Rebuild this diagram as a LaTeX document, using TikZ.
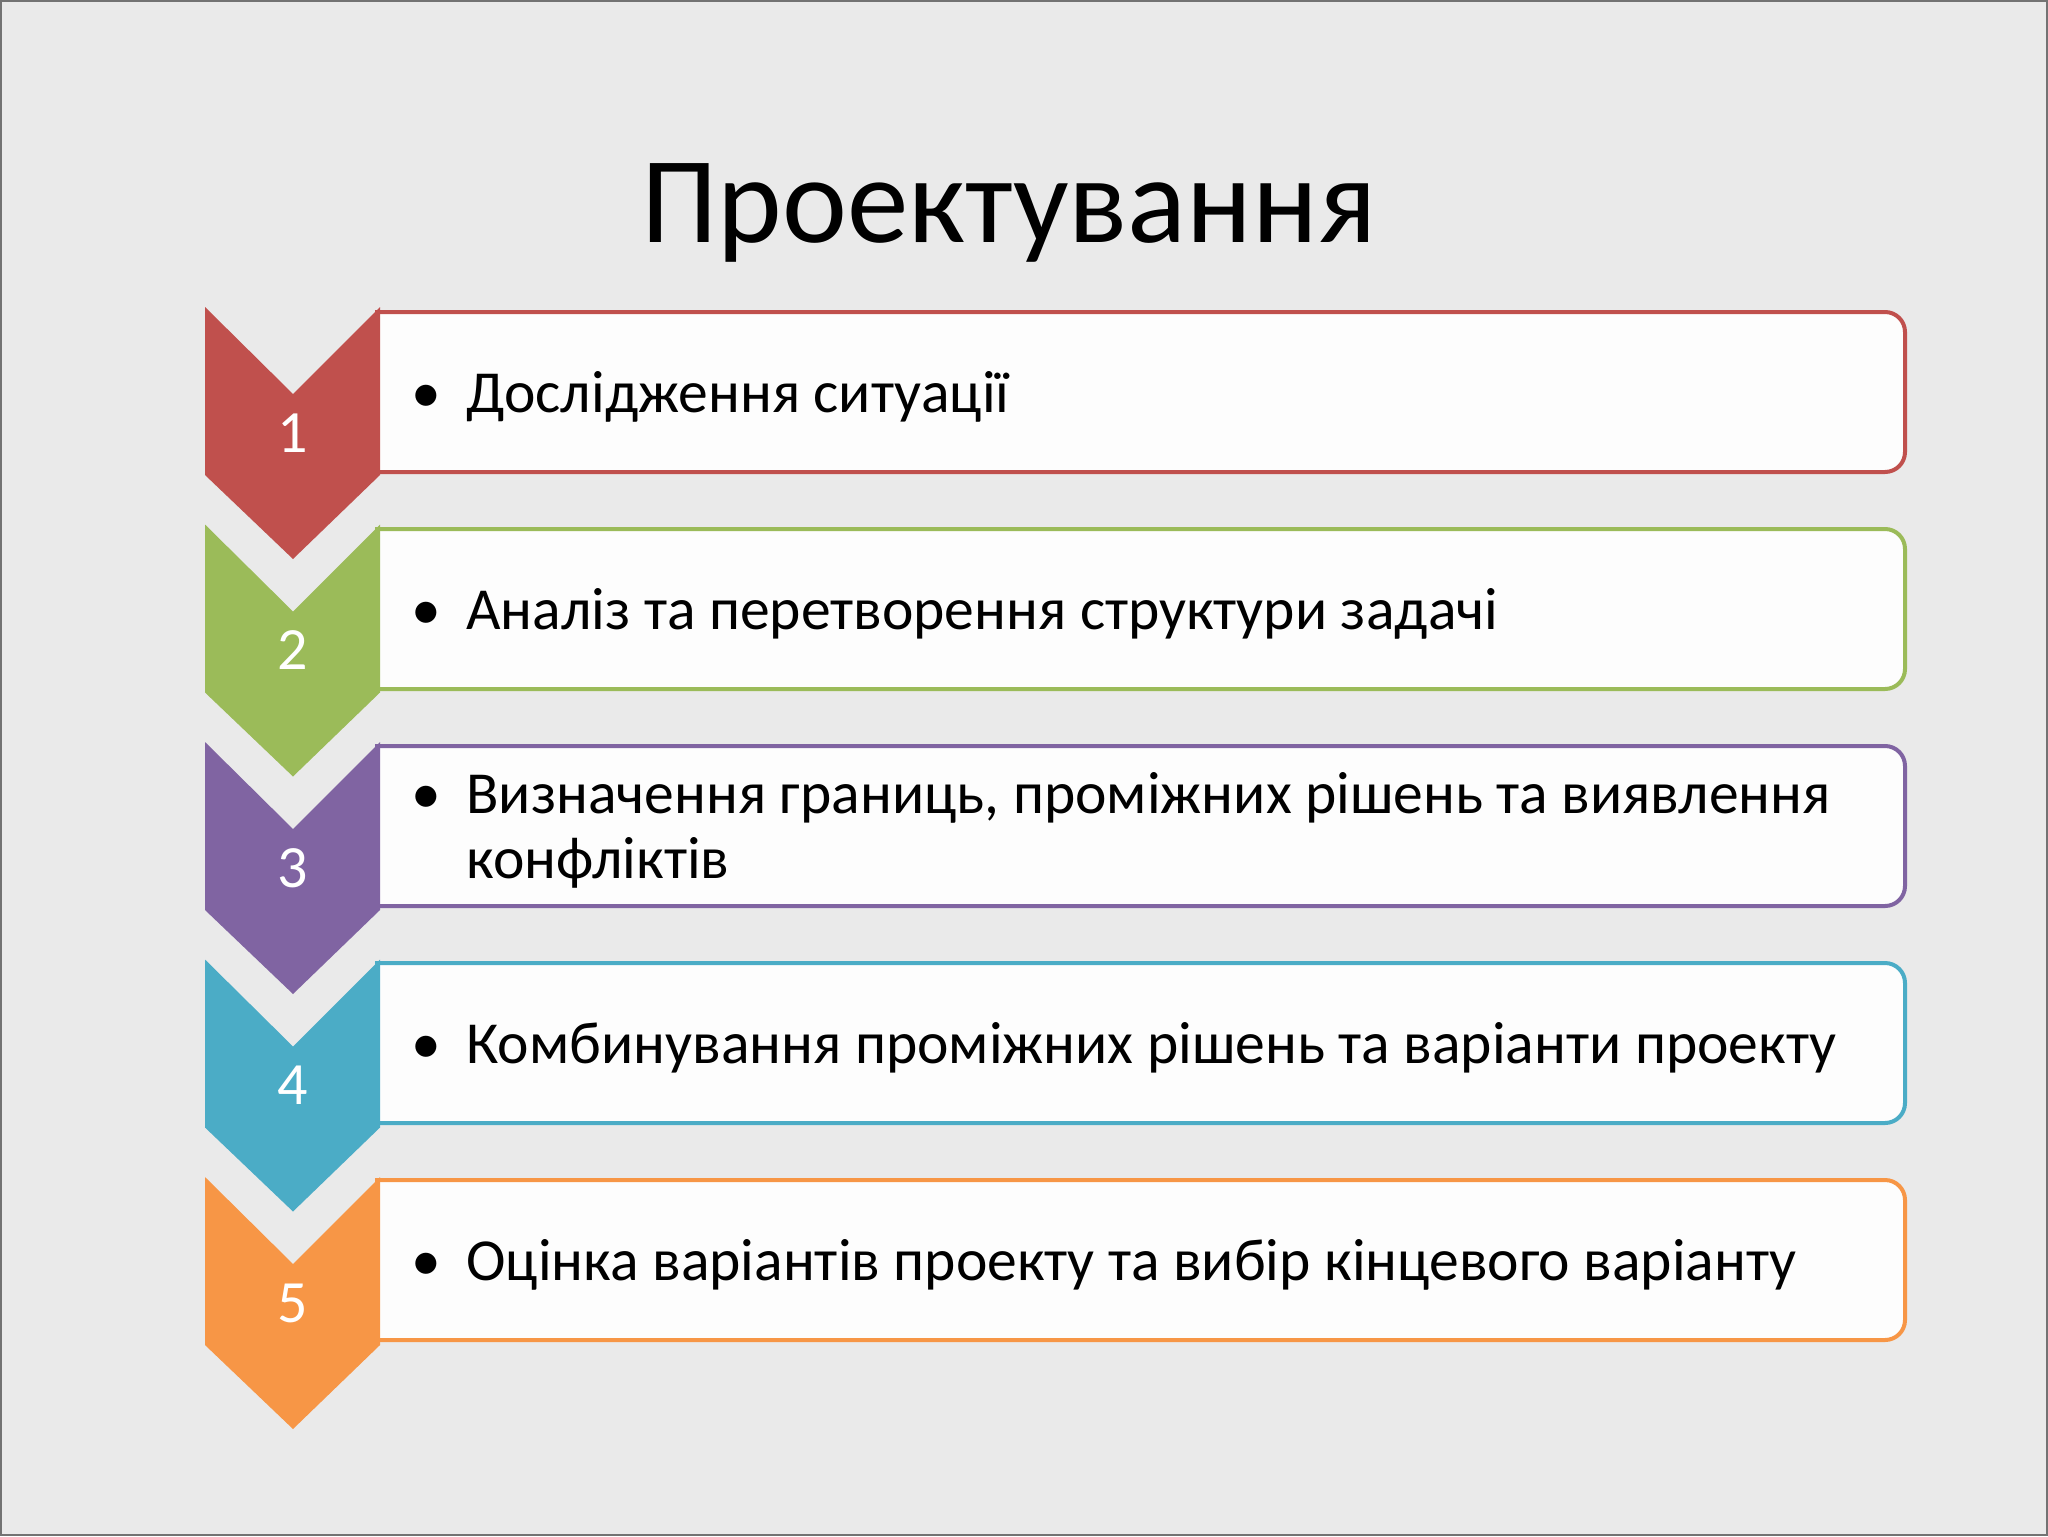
\documentclass[tikz,border=0pt]{standalone}
\usepackage{fontspec}
\setmainfont{Carlito}
\definecolor{bg}{RGB}{234,234,234}
\definecolor{cA}{RGB}{192,80,77}
\definecolor{cB}{RGB}{155,187,89}
\definecolor{cC}{RGB}{128,100,162}
\definecolor{cD}{RGB}{75,172,198}
\definecolor{cE}{RGB}{247,150,70}
\tikzset{
  txt/.style={anchor=base west, inner sep=0pt, font=\fontsize{29.8}{32.5}\selectfont, text=black},
  bul/.style={anchor=base, inner sep=0pt, font=\fontsize{29.8}{32.5}\selectfont, text=black},
  numlbl/.style={inner sep=0pt, font=\fontsize{30}{36}\selectfont, text=white},
  boxshape/.style={line width=2pt, fill=white, fill opacity=0.92, draw opacity=1, rounded corners=10pt},
}
\begin{document}
\begin{tikzpicture}[x=0.5pt,y=-0.5pt]
\useasboundingbox (0,0) rectangle (2048,1536);
\fill[bg] (0,0) rectangle (2048,1536);
\draw[black!55, line width=1pt] (1,1) rectangle (2047,1535);
\node[anchor=base, inner sep=0pt, font=\fontsize{61.5}{70}\selectfont] (title) at (1009,242) {Проектування};
\foreach \i/\c in {0/cA,1/cB,2/cC,3/cD,4/cE}{
  \pgfmathsetmacro\t{312+217*\i}
  \pgfmathsetmacro\b{\t+160}
  \pgfmathsetmacro\y{307+217.5*\i}
  \pgfmathtruncatemacro\k{\i+1}
  \filldraw[boxshape, draw=\c] (375,\t) -- (1905,\t) -- (1905,\b) -- (375,\b);
  \fill[\c] (205,\y) -- (293,\y+87) -- (380,\y) -- (380,\y+168) -- (293,\y+252) -- (205,\y+168) -- cycle;
  \node[numlbl] (n\k) at (293,\y+126) {\k};
}
\node[bul] (b1) at (426,412) {•};
\node[txt] (t1) at (466,412) {Дослідження ситуації};
\node[bul] (b2) at (426,629) {•};
\node[txt] (t2) at (466,629) {Аналіз та перетворення структури задачі};
\node[bul] (b3) at (426,813) {•};
\node[txt] (t3) at (466,813) {\parbox[t]{800pt}{\raggedright Визначення границь, проміжних рішень та виявлення\\конфліктів}};
\node[bul] (b4) at (426,1063) {•};
\node[txt] (t4) at (466,1063) {Комбинування проміжних рішень та варіанти проекту};
\node[bul] (b5) at (426,1280) {•};
\node[txt] (t5) at (466,1280) {Оцінка варіантів проекту та вибір кінцевого варіанту};
\end{tikzpicture}
\end{document}
